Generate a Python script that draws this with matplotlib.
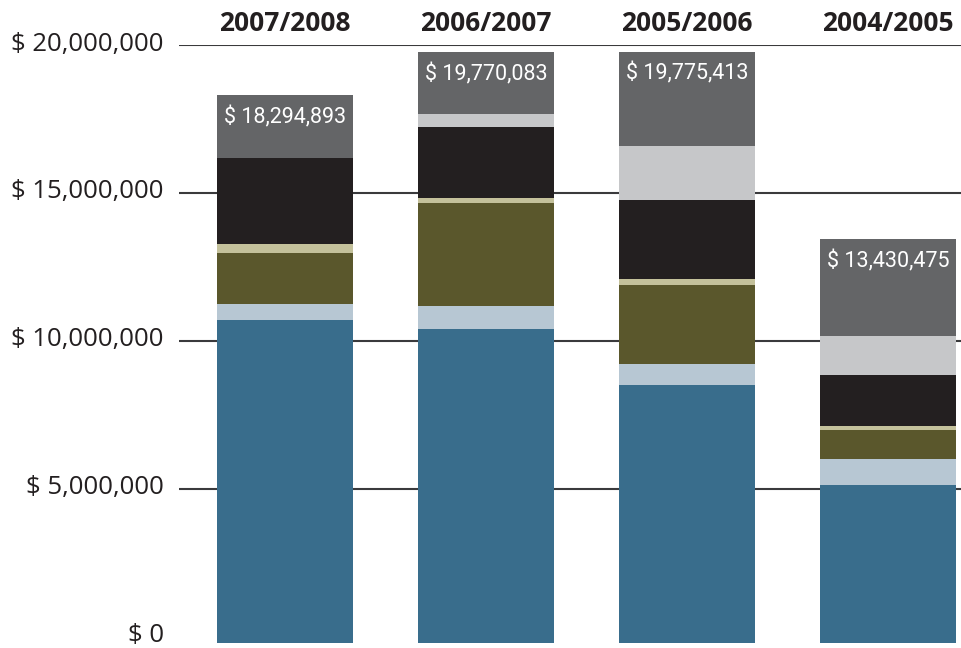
import matplotlib.pyplot as plt
import matplotlib.transforms as mtransforms
import numpy as np

# fiscal years, left to right
years = ["2007/2008", "2006/2007", "2005/2006", "2004/2005"]

# stacked components in dollars, bottom to top
seg_blue = [10_700_000, 10_400_000, 8_510_000, 5_110_000]
seg_lightblue = [540_000, 780_000, 710_000, 910_000]
seg_olive = [1_720_000, 3_470_000, 2_660_000, 980_000]
seg_tan = [310_000, 170_000, 210_000, 130_000]
seg_black = [2_900_000, 2_420_000, 2_660_000, 1_720_000]
seg_lightgray = [0, 440_000, 1_850_000, 1_315_000]
seg_darkgray = [2_124_893, 2_090_083, 3_175_413, 3_265_475]

yticks = [0, 5_000_000, 10_000_000, 15_000_000, 20_000_000]
ytick_labels = ["$ 0", "$ 5,000,000", "$ 10,000,000", "$ 15,000,000", "$ 20,000,000"]

segments = [seg_blue, seg_lightblue, seg_olive, seg_tan,
            seg_black, seg_lightgray, seg_darkgray]
colors = ["#396d8c", "#b7c7d3", "#5a572c", "#c4c19b",
          "#231f20", "#c6c7c9", "#646567"]

W, H = 962, 648
fig = plt.figure(figsize=(W / 100, H / 100), dpi=100)
# axes spans from the left end of the grid lines to the right edge
ax = fig.add_axes([179 / W, 0, 1 - 179 / W, (H - 45) / H])

x = np.arange(len(years))
width = 0.677
base_pad = 216_000  # bars sit slightly below the zero line

bottom = np.zeros(len(years))
for i, (vals, c) in enumerate(zip(segments, colors)):
    vals = np.asarray(vals, dtype=float)
    if i == 0:
        ax.bar(x, vals + base_pad, width, bottom=-base_pad, color=c, zorder=3)
    else:
        ax.bar(x, vals, width, bottom=bottom, color=c, zorder=3)
    bottom += vals

totals = bottom
for xi, t in zip(x, totals):
    ax.annotate(f"$ {int(round(t)):,}", xy=(xi, t), xytext=(0, -8),
                textcoords="offset points", ha="center", va="top",
                color="white", fontsize=15.5, fontweight="normal",
                family="Roboto")

# horizontal rules at each non-zero tick
for v in yticks[1:]:
    ax.axhline(v, color="#3a3a3c", linewidth=1.5, zorder=1)

ax.set_xlim(-0.527, 3.368)
ax.set_ylim(-385_000, 20_000_000)

ax.set_yticks(yticks)
ax.set_yticklabels(ytick_labels, fontsize=18.5, color="#231f20", family="Open Sans")
ax.tick_params(axis="y", length=0, pad=11)
lift = mtransforms.ScaledTranslation(0, 1 / 100, fig.dpi_scale_trans)
for lbl in ax.get_yticklabels():
    lbl.set_verticalalignment("center")
    lbl.set_transform(lbl.get_transform() + lift)

ax.xaxis.tick_top()
ax.set_xticks(x)
ax.set_xticklabels(years, fontsize=19, fontweight="bold", color="#231f20",
                   family="Open Sans")
ax.tick_params(axis="x", length=0, pad=6)

for s in ax.spines.values():
    s.set_visible(False)

fig.savefig("out.png", dpi=100)
